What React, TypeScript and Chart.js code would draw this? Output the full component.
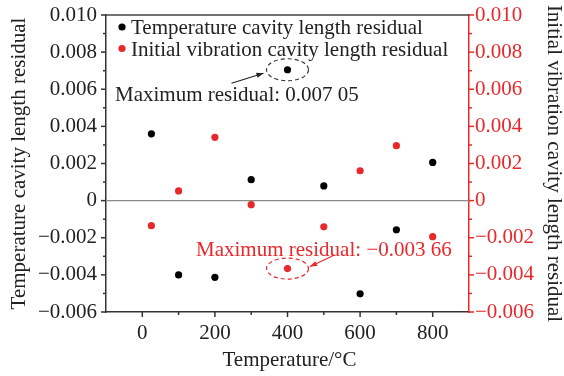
import React, { useEffect, useRef } from 'react';
import { Chart, registerables } from 'chart.js';

Chart.register(...registerables);

const temperatures = [25, 100, 200, 300, 400, 500, 600, 700, 800];
const tempResidual = [0.0036, -0.0040, -0.00413, 0.00113, 0.00705, 0.00079, -0.00502, -0.00157, 0.00206];
const vibResidual = [-0.00135, 0.00052, 0.00341, -0.00022, -0.00366, -0.00141, 0.00161, 0.00296, -0.00194];

const xTickValues = [0, 200, 400, 600, 800];
const legendLabels = ['Temperature cavity length residual', 'Initial vibration cavity length residual'];
const xTitle = 'Temperature/°C';
const yTitle = 'Temperature cavity length residual';
const y2Title = 'Initial vibration cavity length residual';
const maxTempLabel = 'Maximum residual: 0.007 05';
const maxVibLabel = 'Maximum residual: \u22120.003 66';
const maxTempPoint = { x: 400, y: 0.00705 };
const maxVibPoint = { x: 400, y: -0.00366 };

const RED = '#e8282b';
const DARK = '#222';
const FONT = "'Liberation Serif', 'Times New Roman', serif";
const FS = 21;

function yLabel(v: number) {
  const i = Math.round(v * 1000);
  if (i % 2 !== 0) return '';
  if (i === 0) return '0';
  return (i < 0 ? '\u2212' : '') + (Math.abs(i) / 1000).toFixed(3);
}

function arrow(ctx: CanvasRenderingContext2D, x1: number, y1: number, x2: number, y2: number, color: string) {
  ctx.save();
  ctx.strokeStyle = color;
  ctx.fillStyle = color;
  ctx.lineWidth = 1.2;
  ctx.setLineDash([]);
  ctx.beginPath();
  ctx.moveTo(x1, y1);
  ctx.lineTo(x2, y2);
  ctx.stroke();
  const ang = Math.atan2(y2 - y1, x2 - x1);
  const L = 7, W = 2.6;
  ctx.beginPath();
  ctx.moveTo(x2, y2);
  ctx.lineTo(x2 - L * Math.cos(ang) + W * Math.sin(ang), y2 - L * Math.sin(ang) - W * Math.cos(ang));
  ctx.lineTo(x2 - L * Math.cos(ang) - W * Math.sin(ang), y2 - L * Math.sin(ang) + W * Math.cos(ang));
  ctx.closePath();
  ctx.fill();
  ctx.restore();
}

function ellipse(ctx: CanvasRenderingContext2D, cx: number, cy: number, rx: number, ry: number, color: string) {
  ctx.save();
  ctx.strokeStyle = color;
  ctx.lineWidth = 1.2;
  ctx.setLineDash([4, 3]);
  ctx.beginPath();
  ctx.ellipse(cx, cy, rx, ry, 0, 0, Math.PI * 2);
  ctx.stroke();
  ctx.restore();
}

const overlay = {
  id: 'overlay',
  beforeDatasetsDraw(chart: any) {
    const { ctx, chartArea: a, scales } = chart;
    const y0 = scales.y.getPixelForValue(0);
    ctx.save();
    ctx.strokeStyle = '#8a8a8a';
    ctx.lineWidth = 1.3;
    ctx.beginPath();
    ctx.moveTo(a.left, y0);
    ctx.lineTo(a.right, y0);
    ctx.stroke();
    ctx.restore();
  },
  afterDraw(chart: any) {
    const { ctx, chartArea: a, scales } = chart;
    const xs = scales.x, ys = scales.y, y2s = scales.y2;
    ctx.save();
    ctx.strokeStyle = '#444';
    ctx.lineWidth = 1.5;
    ctx.beginPath();
    ctx.moveTo(a.left, a.top);
    ctx.lineTo(a.right, a.top);
    ctx.stroke();
    for (let i = -6; i <= 10; i++) {
      const len = i % 2 === 0 ? 5 : 3;
      const py = ys.getPixelForValue(i / 1000);
      ctx.strokeStyle = '#333';
      ctx.beginPath();
      ctx.moveTo(a.left, py);
      ctx.lineTo(a.left - len, py);
      ctx.stroke();
      const py2 = y2s.getPixelForValue(i / 1000);
      ctx.strokeStyle = RED;
      ctx.beginPath();
      ctx.moveTo(a.right, py2);
      ctx.lineTo(a.right + len, py2);
      ctx.stroke();
    }
    for (let i = 0; i <= 8; i++) {
      const len = i % 2 === 0 ? 5 : 3;
      const px = xs.getPixelForValue(i * 100);
      ctx.strokeStyle = '#333';
      ctx.beginPath();
      ctx.moveTo(px, a.bottom);
      ctx.lineTo(px, a.bottom + len);
      ctx.stroke();
    }
    ctx.font = `${FS}px ${FONT}`;
    ctx.textBaseline = 'alphabetic';
    ctx.textAlign = 'left';
    const colors = ['#000', RED];
    legendLabels.forEach((t, k) => {
      const cy = a.top + 12 + k * 21.5;
      ctx.fillStyle = colors[k];
      ctx.beginPath();
      ctx.arc(a.left + 16, cy, 3.6, 0, Math.PI * 2);
      ctx.fill();
      ctx.fillStyle = DARK;
      ctx.fillText(t, a.left + 25, cy + 7);
    });
    const bx = xs.getPixelForValue(maxTempPoint.x), by = ys.getPixelForValue(maxTempPoint.y);
    ellipse(ctx, bx, by, 21, 11, '#333');
    arrow(ctx, bx - 56, by + 13.5, bx - 24, by + 3.5, '#222');
    ctx.fillStyle = DARK;
    ctx.fillText(maxTempLabel, a.left + 9, by + 31);
    const rx = xs.getPixelForValue(maxVibPoint.x), ry = y2s.getPixelForValue(maxVibPoint.y);
    ellipse(ctx, rx, ry, 21, 10.5, RED);
    arrow(ctx, rx + 45, ry - 12.5, rx + 22.5, ry - 2, RED);
    ctx.fillStyle = RED;
    ctx.fillText(maxVibLabel, a.left + 90, ry - 13);
    ctx.fillStyle = DARK;
    ctx.textAlign = 'center';
    ctx.fillText(xTitle, (a.left + a.right) / 2 + 2, 366);
    const midY = (a.top + a.bottom) / 2;
    ctx.textBaseline = 'middle';
    ctx.save();
    ctx.translate(19, midY);
    ctx.rotate(-Math.PI / 2);
    ctx.fillText(yTitle, 0, 0);
    ctx.restore();
    ctx.save();
    ctx.translate(554, midY);
    ctx.rotate(Math.PI / 2);
    ctx.fillText(y2Title, 0, 0);
    ctx.restore();
    ctx.restore();
  },
};

export default function App() {
  const ref = useRef<HTMLCanvasElement | null>(null);
  useEffect(() => {
    if (!ref.current) return;
    const font = { family: FONT, size: FS };
    const yFont = { family: FONT, size: FS, lineHeight: 0.5 };
    const chart = new Chart(ref.current, {
      type: 'scatter',
      data: {
        datasets: [
          {
            label: legendLabels[0],
            data: temperatures.map((t, i) => ({ x: t, y: tempResidual[i] })),
            backgroundColor: '#000',
            borderWidth: 0,
            pointRadius: 3.6,
            yAxisID: 'y',
          },
          {
            label: legendLabels[1],
            data: temperatures.map((t, i) => ({ x: t, y: vibResidual[i] })),
            backgroundColor: RED,
            borderWidth: 0,
            pointRadius: 3.6,
            yAxisID: 'y2',
          },
        ],
      },
      options: {
        animation: false,
        responsive: false,
        devicePixelRatio: 1,
        layout: { padding: { top: 15, left: 0, right: 0, bottom: 0 } },
        plugins: { legend: { display: false }, tooltip: { enabled: false } },
        scales: {
          x: {
            type: 'linear',
            min: -100,
            max: 900,
            afterFit: (s: any) => { s.height = 64; },
            grid: { display: false, drawTicks: false },
            border: { display: true, color: '#333', width: 1.5 },
            ticks: {
              stepSize: 100,
              autoSkip: false,
              maxRotation: 0,
              padding: 9,
              color: DARK,
              font,
              callback: (v: any) => (xTickValues.includes(Number(v)) ? String(v) : ''),
            },
          },
          y: {
            type: 'linear',
            position: 'left',
            min: -0.006,
            max: 0.01,
            afterFit: (s: any) => { s.width = 106; },
            grid: { display: false, drawTicks: false },
            border: { display: true, color: '#333', width: 1.5 },
            ticks: { stepSize: 0.001, autoSkip: false, padding: 9, color: DARK, font: yFont, callback: (v: any) => yLabel(Number(v)) },
          },
          y2: {
            type: 'linear',
            position: 'right',
            min: -0.006,
            max: 0.01,
            afterFit: (s: any) => { s.width = 95; },
            grid: { display: false, drawTicks: false },
            border: { display: true, color: RED, width: 1.5 },
            ticks: { stepSize: 0.001, autoSkip: false, padding: 6, color: RED, font: yFont, callback: (v: any) => yLabel(Number(v)) },
          },
        },
      },
      plugins: [overlay],
    } as any);
    return () => chart.destroy();
  }, []);
  return (
    <div style={{ position: 'absolute', left: 0, top: 0, width: 564, height: 376, background: '#fff' }}>
      <canvas ref={ref} width={564} height={376} />
    </div>
  );
}
